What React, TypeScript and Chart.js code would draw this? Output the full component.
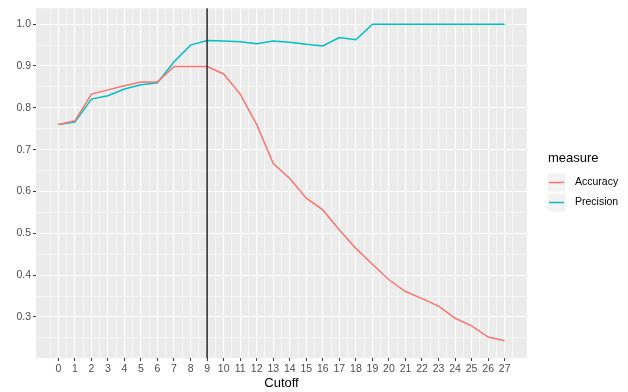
import React, { useEffect, useRef } from "react";
import { Chart, registerables } from "chart.js";
Chart.register(...registerables);

const cutoffs = [0, 1, 2, 3, 4, 5, 6, 7, 8, 9, 10, 11, 12, 13, 14, 15, 16, 17, 18, 19, 20, 21, 22, 23, 24, 25, 26, 27];
const accuracy = [0.760, 0.769, 0.833, 0.843, 0.853, 0.862, 0.862, 0.899, 0.899, 0.899, 0.881, 0.833, 0.760, 0.667, 0.631, 0.584, 0.556, 0.508, 0.464, 0.426, 0.389, 0.361, 0.344, 0.326, 0.297, 0.279, 0.252, 0.243];
const precision = [0.760, 0.766, 0.821, 0.829, 0.845, 0.855, 0.860, 0.910, 0.950, 0.961, 0.960, 0.958, 0.953, 0.960, 0.957, 0.952, 0.948, 0.968, 0.963, 1.0, 1.0, 1.0, 1.0, 1.0, 1.0, 1.0, 1.0, 1.0];
const seriesNames = ["Accuracy", "Precision"];
const seriesColors = ["#F8766D", "#00BFC4"];
const yMajor = [0.3, 0.4, 0.5, 0.6, 0.7, 0.8, 0.9, 1.0];
const yMinor = [0.25, 0.35, 0.45, 0.55, 0.65, 0.75, 0.85, 0.95];
const cutLine = 9;
const xTitle = "Cutoff";
const legendTitle = "measure";

const FONT = "'Liberation Sans', Arial, Helvetica, sans-serif";

const isMajorX = (v: number) => Math.abs(v - Math.round(v)) < 1e-6;
const isMajorY = (v: number) => yMajor.some((m) => Math.abs(m - v) < 1e-6);

export default function App() {
  const ref = useRef<HTMLCanvasElement | null>(null);
  useEffect(() => {
    document.body.style.margin = "0";
    const canvas = ref.current!;
    const bgPlugin = {
      id: "bg",
      beforeDraw(chart: any) {
        const { ctx, chartArea: a } = chart;
        ctx.save();
        ctx.fillStyle = "#FFFFFF";
        ctx.fillRect(0, 0, chart.width, chart.height);
        ctx.fillStyle = "#EBEBEB";
        ctx.fillRect(a.left, a.top, a.right - a.left, a.bottom - a.top);
        ctx.restore();
      },
    };
    const overlay = {
      id: "overlay",
      afterDatasetsDraw(chart: any) {
        const { ctx, chartArea: a } = chart;
        const xs = chart.scales.x;
        ctx.save();
        const px = xs.getPixelForValue(cutLine);
        ctx.strokeStyle = "#333333";
        ctx.lineWidth = 1.6;
        ctx.beginPath();
        ctx.moveTo(px, a.top);
        ctx.lineTo(px, a.bottom);
        ctx.stroke();
        ctx.restore();
      },
      afterDraw(chart: any) {
        const { ctx, chartArea: a } = chart;
        ctx.save();
        ctx.fillStyle = "#000000";
        ctx.font = `13px ${FONT}`;
        ctx.textAlign = "center";
        ctx.textBaseline = "middle";
        ctx.fillText(xTitle, (a.left + a.right) / 2, 383);
        // legend
        ctx.textAlign = "left";
        ctx.fillText(legendTitle, 548, 158);
        seriesNames.forEach((name, i) => {
          const top = 173 + i * 20;
          ctx.fillStyle = "#F2F2F2";
          ctx.fillRect(547, top, 19, 19);
          ctx.strokeStyle = "#FFFFFF";
          ctx.lineWidth = 1;
          ctx.strokeRect(547, top, 19, 19);
          ctx.strokeStyle = seriesColors[i];
          ctx.lineWidth = 1.5;
          ctx.beginPath();
          ctx.moveTo(549, top + 9.5);
          ctx.lineTo(564, top + 9.5);
          ctx.stroke();
          ctx.fillStyle = "#000000";
          ctx.font = `10.5px ${FONT}`;
          ctx.fillText(name, 575, top + 9.5);
        });
        ctx.restore();
      },
    };
    const chart = new Chart(canvas, {
      type: "line",
      data: {
        datasets: seriesNames.map((name, i) => ({
          label: name,
          data: cutoffs.map((c, j) => ({ x: c, y: (i === 0 ? accuracy : precision)[j] })),
          borderColor: seriesColors[i],
          backgroundColor: seriesColors[i],
          borderWidth: 1.5,
          pointRadius: 0,
          tension: 0,
          fill: false,
        })),
      },
      options: {
        animation: false,
        responsive: false,
        layout: { padding: { top: 8, right: 101, left: 0, bottom: 0 } },
        plugins: { legend: { display: false }, tooltip: { enabled: false } },
        scales: {
          x: {
            type: "linear",
            min: -1.35,
            max: 28.35,
            afterFit: (s: any) => {
              s.height = 34;
            },
            afterBuildTicks: (s: any) => {
              const t: any[] = [];
              for (let v = -0.5; v <= 27.5 + 1e-9; v += 0.5) t.push({ value: v });
              s.ticks = t;
            },
            ticks: {
              autoSkip: false,
              maxRotation: 0,
              minRotation: 0,
              padding: 2,
              color: "#4D4D4D",
              font: { size: 10.5, family: FONT },
              callback: (v: any) => (isMajorX(Number(v)) && v >= 0 ? String(Math.round(Number(v))) : ""),
            },
            grid: {
              color: "#FFFFFF",
              lineWidth: (c: any) => (c.tick && isMajorX(c.tick.value) ? 1.1 : 0.55),
              tickColor: (c: any) => (c.tick && isMajorX(c.tick.value) ? "#333333" : "rgba(0,0,0,0)"),
              tickWidth: 1,
              tickLength: 3,
              drawTicks: true,
            },
            border: { display: false },
          },
          y: {
            type: "linear",
            min: 0.202,
            max: 1.038,
            afterFit: (s: any) => {
              s.width = 36;
            },
            afterBuildTicks: (s: any) => {
              const vals = [...yMajor, ...yMinor].sort((a, b) => a - b);
              s.ticks = vals.map((v) => ({ value: v }));
            },
            ticks: {
              autoSkip: false,
              padding: 2,
              color: "#4D4D4D",
              font: { size: 10.5, family: FONT },
              callback: (v: any) => (isMajorY(Number(v)) ? Number(v).toFixed(1) : ""),
            },
            grid: {
              color: "#FFFFFF",
              lineWidth: (c: any) => (c.tick && isMajorY(c.tick.value) ? 1.1 : 0.55),
              tickColor: (c: any) => (c.tick && isMajorY(c.tick.value) ? "#333333" : "rgba(0,0,0,0)"),
              tickWidth: 1,
              tickLength: 3,
              drawTicks: true,
            },
            border: { display: false },
          },
        },
      },
      plugins: [bgPlugin, overlay],
    } as any);
    return () => chart.destroy();
  }, []);
  return (
    <div style={{ position: "fixed", left: 0, top: 0, width: 628, height: 392 }}>
      <canvas ref={ref} width={628} height={392} style={{ display: "block", width: 628, height: 392 }} />
    </div>
  );
}
